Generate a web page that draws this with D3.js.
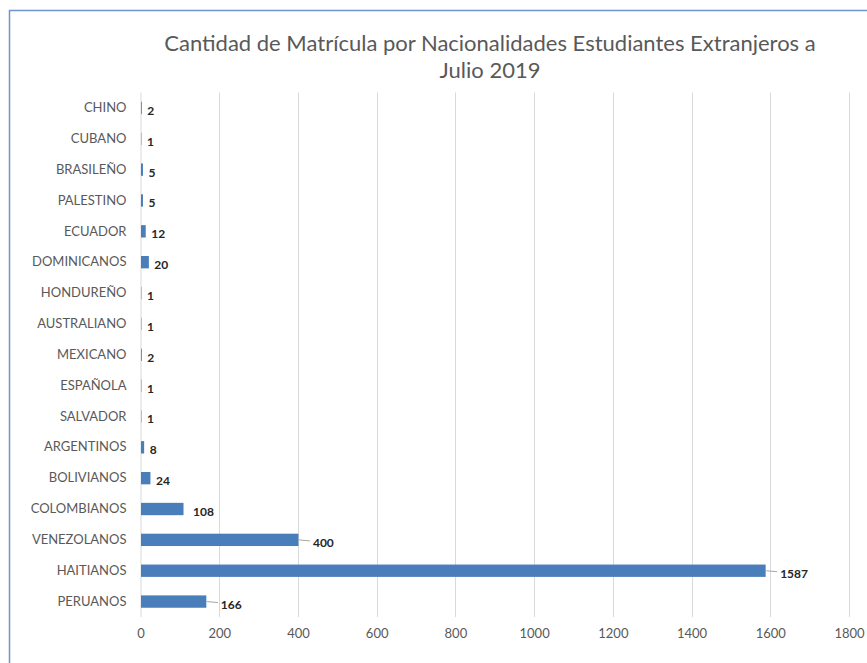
<!DOCTYPE html>
<html>
<head>
<meta charset="utf-8">
<script src="https://cdn.jsdelivr.net/npm/d3@7"></script>
<style>
  html, body { margin: 0; padding: 0; background: #fff; }
  svg { display: block; font-family: Lato, "Open Sans", sans-serif; }
</style>
</head>
<body>
<div id="chart"></div>
<script>
const WIDTH = 867
const HEIGHT = 663
const LEFT = 140.5
const RIGHT = 849
const TOP = 92.5
const BOTTOM = 617
const FONT = 'Lato, "Open Sans", sans-serif'

const TITLE = ['Cantidad de Matrícula por Nacionalidades Estudiantes Extranjeros a', 'Julio 2019']
const categories = ['CHINO', 'CUBANO', 'BRASILEÑO', 'PALESTINO', 'ECUADOR', 'DOMINICANOS', 'HONDUREÑO',
  'AUSTRALIANO', 'MEXICANO', 'ESPAÑOLA', 'SALVADOR', 'ARGENTINOS', 'BOLIVIANOS', 'COLOMBIANOS',
  'VENEZOLANOS', 'HAITIANOS', 'PERUANOS']
const values = [2, 1, 5, 5, 12, 20, 1, 1, 2, 1, 1, 8, 24, 108, 400, 1587, 166]
const xTicks = [0, 200, 400, 600, 800, 1000, 1200, 1400, 1600, 1800]
// labels pulled out with a small leader line
const leaders = ['VENEZOLANOS', 'HAITIANOS', 'PERUANOS']

const main = _ => {
  const svg = d3.select('#chart').append('svg')
    .attr('width', WIDTH)
    .attr('height', HEIGHT)

  // frame
  svg.append('path')
    .attr('d', `M9.5,${HEIGHT} V10.5 H${WIDTH}`)
    .attr('fill', 'none')
    .attr('stroke', '#6f93d4')
    .attr('stroke-width', 1.5)

  const x = d3.scaleLinear().domain([0, 1800]).range([LEFT, RIGHT])
  const y = d3.scaleBand().domain(categories).range([TOP, BOTTOM]).paddingInner(0.6).paddingOuter(0.3)

  // gridlines
  svg.append('g')
    .selectAll('line')
    .data(xTicks.slice(1))
    .join('line')
    .attr('x1', d => Math.round(x(d)) + 0.5)
    .attr('x2', d => Math.round(x(d)) + 0.5)
    .attr('y1', TOP)
    .attr('y2', BOTTOM)
    .attr('stroke', '#d9d9d9')
    .attr('stroke-width', 1)

  // x axis labels
  const xAxis = d3.axisBottom(x).tickValues(xTicks).tickFormat(d3.format('d')).tickSize(0).tickPadding(10)
  const gx = svg.append('g')
    .attr('transform', `translate(0, ${BOTTOM + 2})`)
    .call(xAxis)
    .attr('font-family', FONT)
  gx.select('.domain').remove()
  gx.selectAll('text')
    .attr('fill', '#595959')
    .style('font-size', '13px')

  // y axis
  const yAxis = d3.axisLeft(y).tickSize(0).tickPadding(14)
  const gy = svg.append('g')
    .attr('transform', `translate(${LEFT}, 0)`)
    .call(yAxis)
    .attr('font-family', FONT)
  gy.select('.domain')
    .attr('stroke', '#d9d9d9')
    .attr('d', `M0.5,${TOP}V${BOTTOM}`)
  gy.selectAll('text')
    .attr('fill', '#595959')
    .style('font-size', '13px')

  const rows = categories.map((c, i) => ({ name: c, value: values[i] }))

  // bars
  svg.append('g')
    .selectAll('rect')
    .data(rows)
    .join('rect')
    .attr('x', x(0) + 0.5)
    .attr('y', d => y(d.name))
    .attr('width', d => x(d.value) - x(0))
    .attr('height', y.bandwidth())
    .attr('fill', '#4a7ebb')

  const cy = d => y(d.name) + y.bandwidth() / 2
  const offset = d => leaders.includes(d.name) ? 15 : (d.value > 50 ? 10 : 6)

  // leader lines
  svg.append('g')
    .selectAll('line')
    .data(rows.filter(d => leaders.includes(d.name)))
    .join('line')
    .attr('x1', d => x(d.value) + 1)
    .attr('x2', d => x(d.value) + offset(d) - 3)
    .attr('y1', cy)
    .attr('y2', d => cy(d) + 1)
    .attr('stroke', '#a6a6a6')
    .attr('stroke-width', 1)

  // value labels
  svg.append('g')
    .selectAll('text')
    .data(rows)
    .join('text')
    .attr('x', d => x(d.value) + offset(d))
    .attr('y', d => cy(d) + 7)
    .attr('fill', '#262626')
    .style('font-size', '12px')
    .style('font-weight', 'bold')
    .text(d => d.value)

  // title
  svg.append('g')
    .selectAll('text')
    .data(TITLE)
    .join('text')
    .attr('x', 490)
    .attr('y', (d, i) => 51 + i * 27)
    .attr('text-anchor', 'middle')
    .attr('fill', '#595959')
    .style('font-size', '22px')
    .text(d => d)
}

document.addEventListener('DOMContentLoaded', main)
</script>
</body>
</html>
